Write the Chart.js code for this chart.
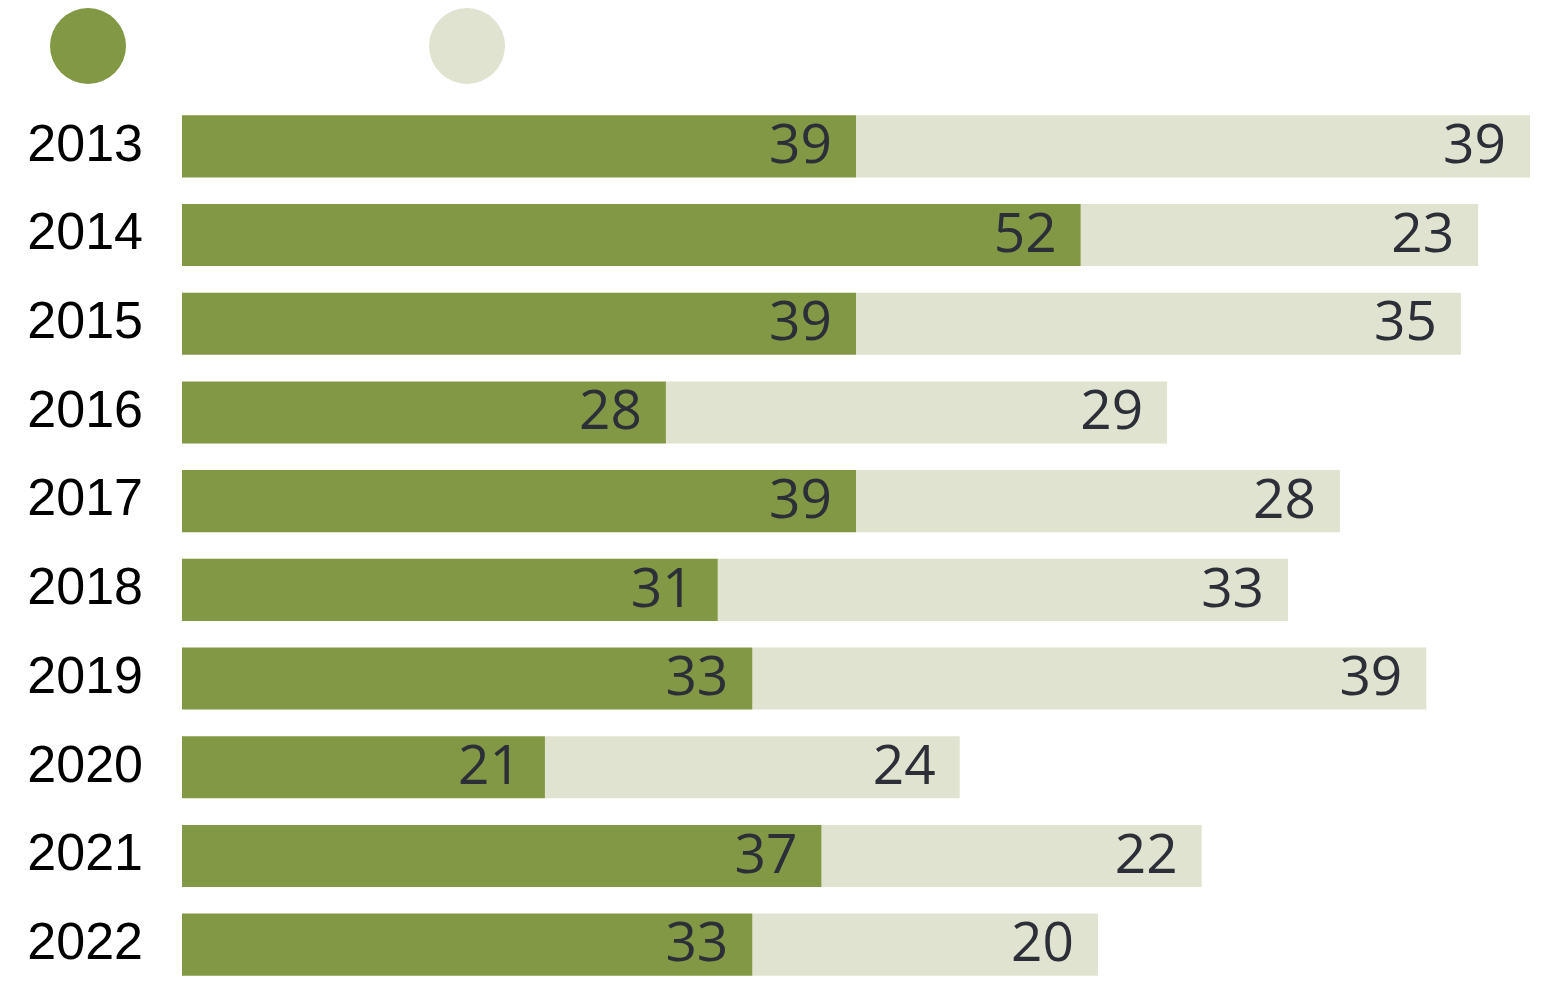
<!DOCTYPE html>
<html>
<head>
<meta charset="utf-8">
<script src="https://cdn.jsdelivr.net/npm/chart.js@4/dist/chart.umd.min.js"></script>
<style>
  html, body { margin: 0; padding: 0; background: #ffffff; overflow: hidden; }
  canvas { display: block; }
</style>
</head>
<body>
<canvas id="c" width="1551" height="993"></canvas>
<script>
const years = ['2013', '2014', '2015', '2016', '2017', '2018', '2019', '2020', '2021', '2022'];
const seriesA = [39, 52, 39, 28, 39, 31, 33, 21, 37, 33];
const seriesB = [39, 23, 35, 29, 28, 33, 39, 24, 22, 20];
const xMax = 78;

const colorA = '#839844';
const colorB = '#dfe3d0';
const labelColor = '#2c2e38';

const legendDots = {
  id: 'legendDots',
  afterDraw(chart) {
    const ctx = chart.ctx;
    const dots = [{x: 88, c: colorA}, {x: 467, c: colorB}];
    ctx.save();
    dots.forEach(d => {
      ctx.beginPath();
      ctx.arc(d.x, 46, 38, 0, Math.PI * 2);
      ctx.fillStyle = d.c;
      ctx.fill();
    });
    ctx.restore();
  }
};

const valueLabels = {
  id: 'valueLabels',
  afterDatasetsDraw(chart) {
    const ctx = chart.ctx;
    ctx.save();
    ctx.font = '400 55px "Open Sans", Roboto, sans-serif';
    ctx.fillStyle = labelColor;
    ctx.textAlign = 'right';
    ctx.textBaseline = 'middle';
    chart.data.datasets.forEach((ds, i) => {
      const meta = chart.getDatasetMeta(i);
      meta.data.forEach((bar, j) => {
        ctx.fillText(String(ds.data[j]), bar.x - 24, bar.y + 1);
      });
    });
    ctx.restore();
  }
};

new Chart(document.getElementById('c'), {
  type: 'bar',
  data: {
    labels: years,
    datasets: [
      { label: 'A', data: seriesA, backgroundColor: colorA, borderWidth: 0 },
      { label: 'B', data: seriesB, backgroundColor: colorB, borderWidth: 0 }
    ]
  },
  options: {
    indexAxis: 'y',
    responsive: false,
    maintainAspectRatio: false,
    animation: false,
    devicePixelRatio: 1,
    categoryPercentage: 1,
    barPercentage: 0.7,
    layout: { padding: { top: 102, bottom: 4, left: 24, right: 21 } },
    plugins: {
      legend: { display: false },
      tooltip: { enabled: false }
    },
    scales: {
      x: {
        stacked: true,
        min: 0,
        max: xMax,
        display: false
      },
      y: {
        stacked: true,
        grid: { display: false, drawTicks: false },
        border: { display: false },
        afterFit(scale) {
          scale.width = 158;
          scale.paddingTop = 0;
          scale.paddingBottom = 0;
        },
        ticks: {
          crossAlign: 'center',
          padding: 39,
          color: '#000000',
          font: { family: '"Liberation Sans", Arial, sans-serif', size: 52 }
        }
      }
    }
  },
  plugins: [legendDots, valueLabels]
});
</script>
</body>
</html>
